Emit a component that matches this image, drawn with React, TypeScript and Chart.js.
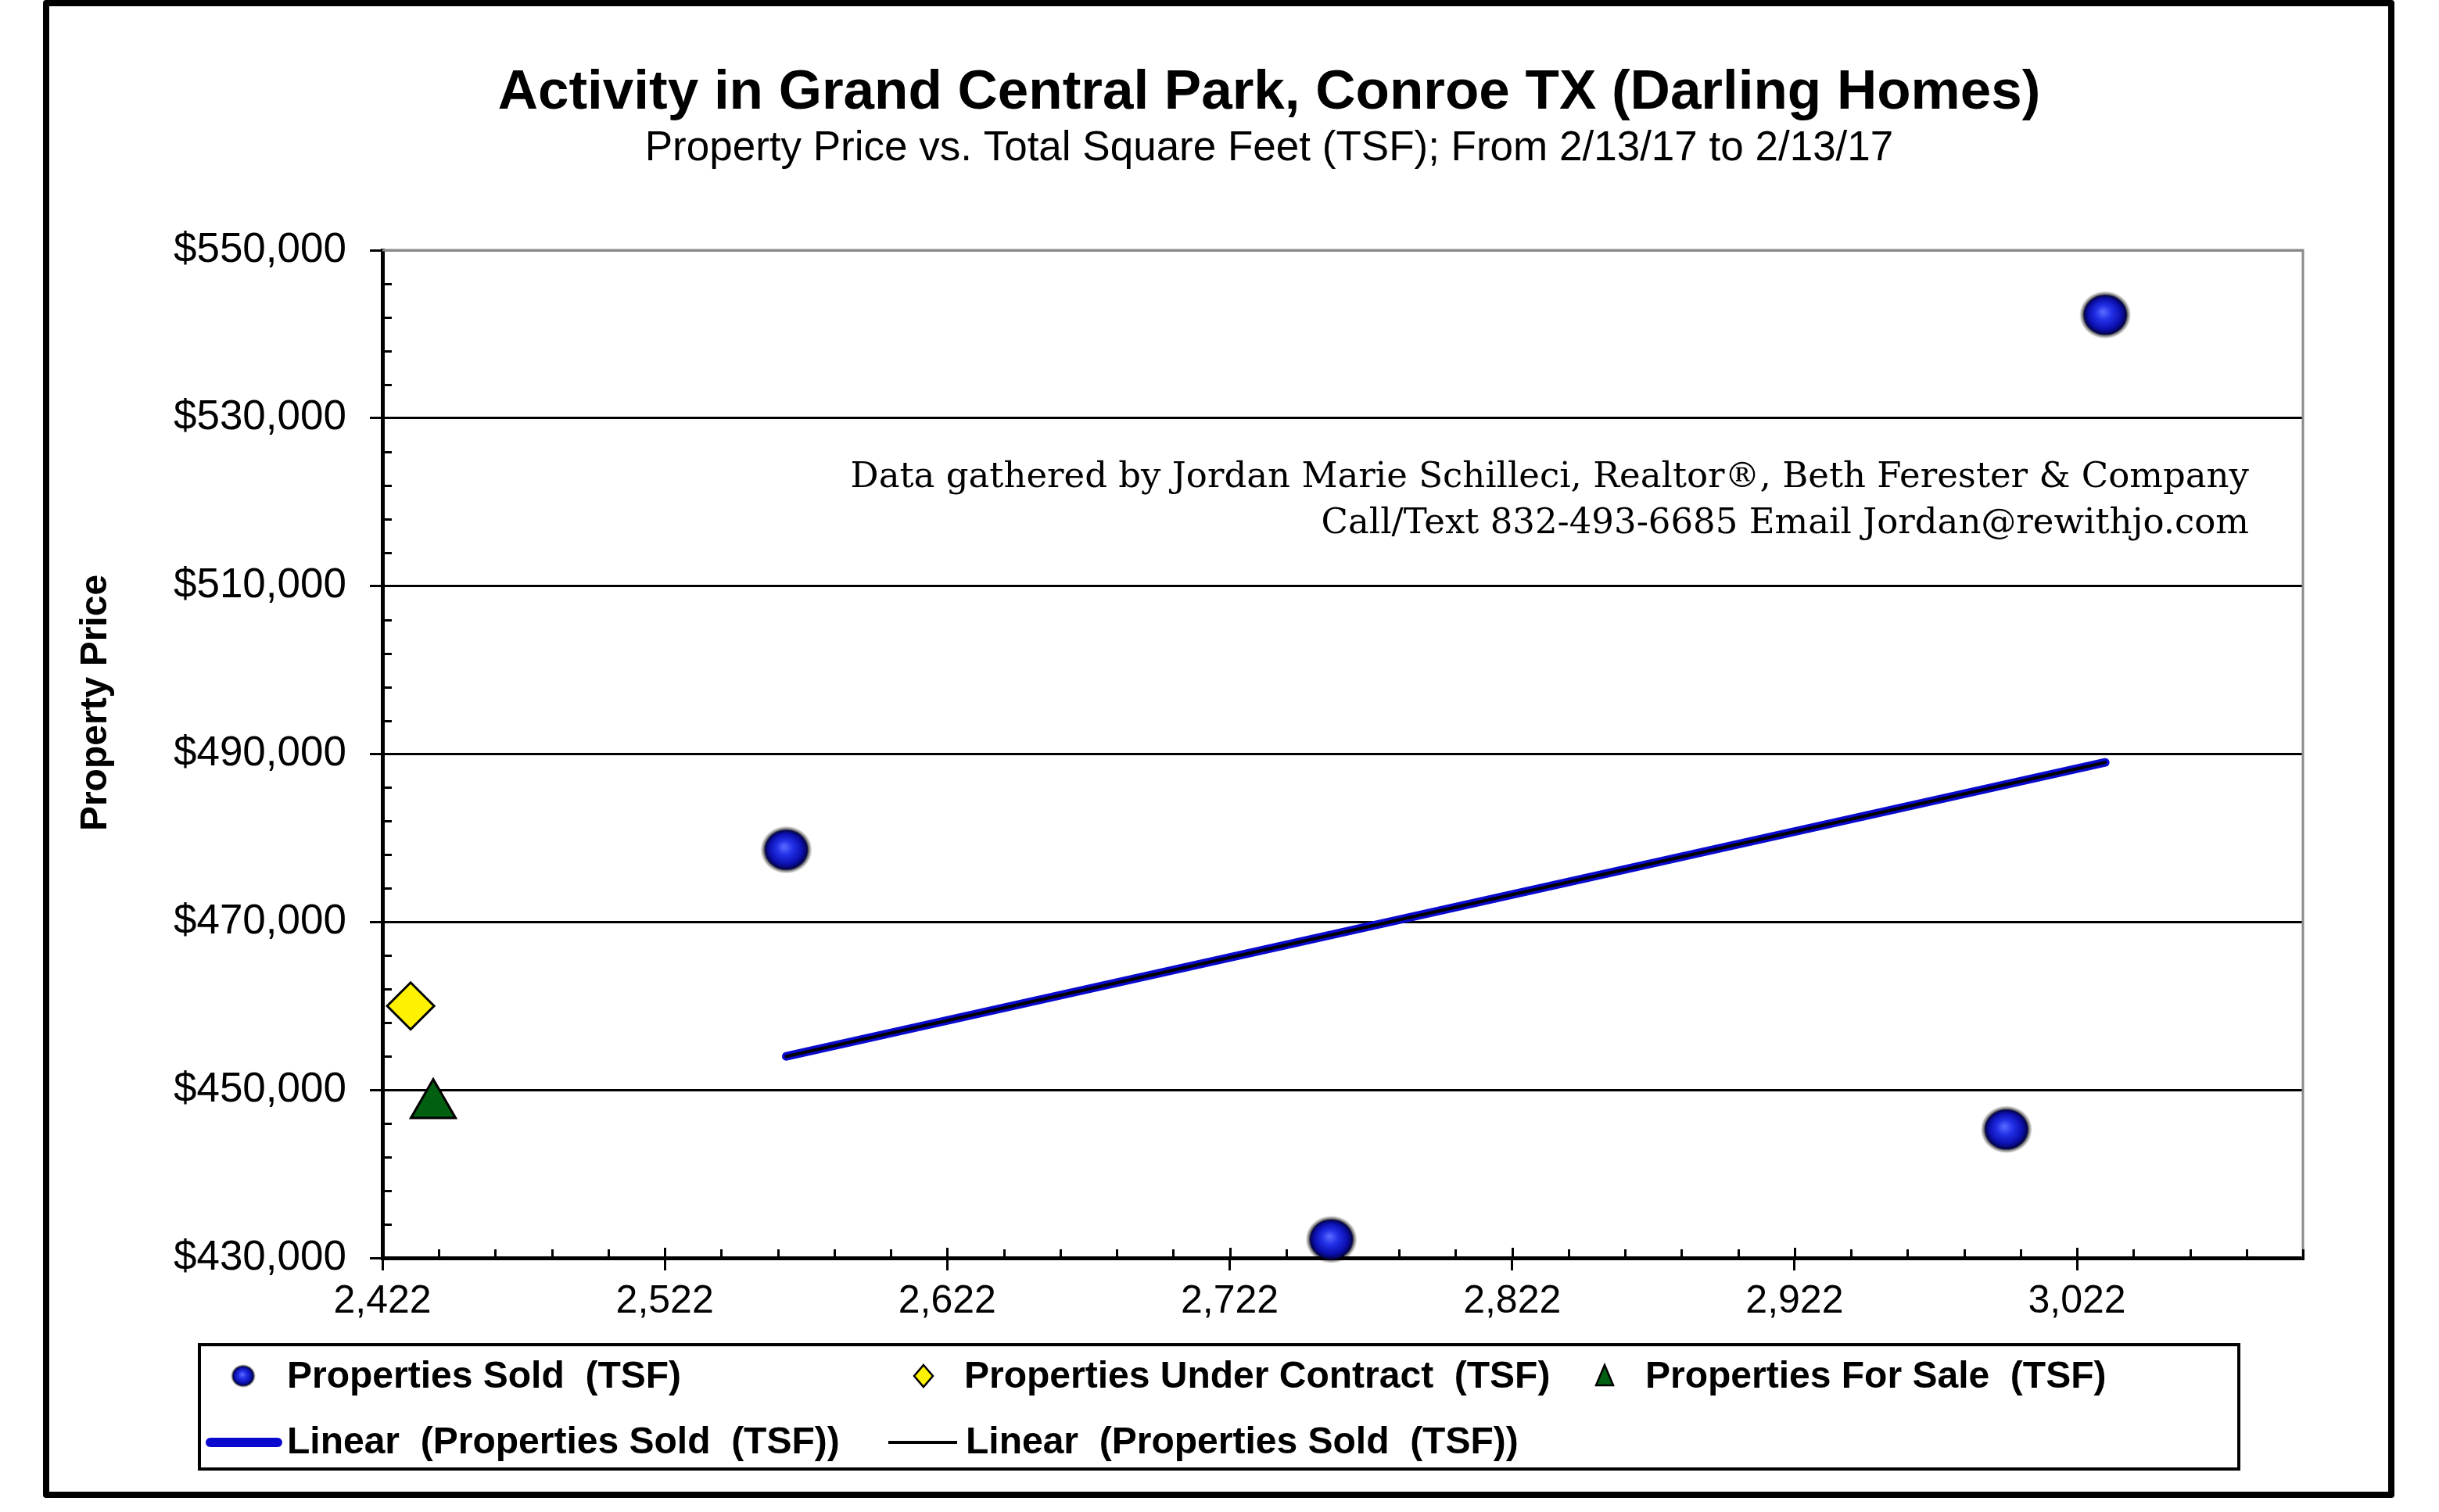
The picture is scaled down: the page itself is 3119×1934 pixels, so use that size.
import React, { useEffect, useRef } from 'react';
import { Chart, registerables } from 'chart.js';

Chart.register(...registerables);

// ---------- data ----------
const titleText = 'Activity in Grand Central Park, Conroe TX (Darling Homes)';
const subtitleText = 'Property Price vs. Total Square Feet (TSF); From 2/13/17 to 2/13/17';
const yAxisTitle = 'Property Price';
const creditLines = [
  'Data gathered by Jordan Marie Schilleci, Realtor®, Beth Ferester & Company',
  'Call/Text 832-493-6685 Email Jordan@rewithjo.com',
];

const seriesLabels = [
  'Properties Sold  (TSF)',
  'Properties Under Contract  (TSF)',
  'Properties For Sale  (TSF)',
  'Linear  (Properties Sold  (TSF))',
  'Linear  (Properties Sold  (TSF))',
];

const soldTSF = [2565, 2758, 2997, 3032];
const soldPrice = [478600, 432200, 445300, 542300];
const contractTSF = [2432];
const contractPrice = [460000];
const forSaleTSF = [2440];
const forSalePrice = [448200];
const trendTSF = [2565, 3032];
const trendPrice = [454000, 489000];

const xTicks = [2422, 2522, 2622, 2722, 2822, 2922, 3022];
const yTicks = [430000, 450000, 470000, 490000, 510000, 530000, 550000];
const xMin = 2422;
const xMax = 3102;
const yMin = 430000;
const yMax = 550000;
const xMinorStep = 20;
const yMinorStep = 4000;

const SANS = '"Liberation Sans", Arial, sans-serif';

function makeSphere(w: number, h: number): HTMLCanvasElement {
  const c = document.createElement('canvas');
  c.width = w;
  c.height = h;
  const g = c.getContext('2d')!;
  const cx = w / 2;
  const cy = h / 2;
  g.save();
  g.translate(cx, cy);
  g.scale(1, h / w);
  const halo = g.createRadialGradient(0, 0, w * 0.38, 0, 0, w / 2);
  halo.addColorStop(0, 'rgba(0,0,0,1)');
  halo.addColorStop(1, 'rgba(0,0,0,0)');
  g.fillStyle = halo;
  g.beginPath();
  g.arc(0, 0, w / 2, 0, Math.PI * 2);
  g.fill();
  const r = w * 0.42;
  const body = g.createRadialGradient(-r * 0.1, -r * 0.15, r * 0.05, 0, 0, r);
  body.addColorStop(0, '#5566ff');
  body.addColorStop(0.35, '#2230e6');
  body.addColorStop(0.75, '#0c10b0');
  body.addColorStop(1, '#020240');
  g.fillStyle = body;
  g.beginPath();
  g.arc(0, 0, r, 0, Math.PI * 2);
  g.fill();
  g.restore();
  return c;
}

const decorPlugin = {
  id: 'decor',
  beforeDatasetsDraw(chart: any) {
    const ctx = chart.ctx as CanvasRenderingContext2D;
    const { left, right, top, bottom } = chart.chartArea;
    const xs = chart.scales.x;
    const ys = chart.scales.y;
    ctx.save();
    // credit text
    ctx.fillStyle = '#000';
    ctx.font = '45px "DejaVu Serif", "Liberation Serif", serif';
    ctx.textAlign = 'right';
    ctx.textBaseline = 'middle';
    ctx.fillText(creditLines[0], right - 69, top + 291);
    ctx.fillText(creditLines[1], right - 69, top + 350);
    // gray top/right frame
    ctx.strokeStyle = '#8a8a8a';
    ctx.lineWidth = 3;
    ctx.beginPath();
    ctx.moveTo(left, top);
    ctx.lineTo(right, top);
    ctx.lineTo(right, bottom);
    ctx.stroke();
    // minor / inner ticks
    ctx.strokeStyle = '#000';
    ctx.lineWidth = 3;
    ctx.beginPath();
    for (let v = xMin; v <= xMax + 1e-6; v += xMinorStep) {
      if (v === xMin) continue;
      const px = Math.round(xs.getPixelForValue(v)) + 0.5;
      const isMajor = xTicks.indexOf(v) >= 0;
      ctx.moveTo(px, bottom);
      ctx.lineTo(px, bottom - (isMajor ? 13 : 11));
    }
    for (let v = yMin; v <= yMax + 1e-6; v += yMinorStep) {
      if (yTicks.indexOf(v) >= 0) continue;
      const py = Math.round(ys.getPixelForValue(v)) + 0.5;
      ctx.moveTo(left, py);
      ctx.lineTo(left + 12, py);
    }
    ctx.stroke();
    ctx.restore();
  },
  afterDraw(chart: any) {
    const ctx = chart.ctx as CanvasRenderingContext2D;
    const ds = chart.data.datasets;
    ctx.save();
    // title & subtitle
    ctx.fillStyle = '#000';
    ctx.textAlign = 'center';
    ctx.textBaseline = 'middle';
    ctx.font = 'bold 71px ' + SANS;
    ctx.fillText(titleText, 1623, 119);
    ctx.font = '53px ' + SANS;
    ctx.fillText(subtitleText, 1623, 190);

    // y axis title
    ctx.font = 'bold 48px ' + SANS;
    ctx.translate(123, 899);
    ctx.rotate(-Math.PI / 2);
    ctx.fillText(yAxisTitle, 0, 0);
    ctx.setTransform(1, 0, 0, 1, 0, 0);

    // legend box
    ctx.strokeStyle = '#000';
    ctx.lineWidth = 4;
    ctx.strokeRect(255, 1720, 2608, 159);
    ctx.font = 'bold 48px ' + SANS;
    ctx.textAlign = 'left';
    ctx.textBaseline = 'middle';
    const row1 = 1762;
    const row2 = 1846;
    const sm = chart._legendSphere as HTMLCanvasElement;
    if (sm) ctx.drawImage(sm, 311 - sm.width / 2, 1760 - sm.height / 2);
    ctx.fillText(ds[0].label, 367, row1);
    // contract diamond
    ctx.beginPath();
    ctx.moveTo(1181, 1760 - 14);
    ctx.lineTo(1181 + 12, 1760);
    ctx.lineTo(1181, 1760 + 14);
    ctx.lineTo(1181 - 12, 1760);
    ctx.closePath();
    ctx.fillStyle = ds[1].backgroundColor;
    ctx.fill();
    ctx.lineWidth = 2.5;
    ctx.strokeStyle = '#000';
    ctx.stroke();
    ctx.fillStyle = '#000';
    ctx.fillText(ds[1].label, 1233, row1);
    // for sale triangle
    ctx.beginPath();
    ctx.moveTo(2052, 1760 - 14);
    ctx.lineTo(2052 + 11, 1760 + 12);
    ctx.lineTo(2052 - 11, 1760 + 12);
    ctx.closePath();
    ctx.fillStyle = ds[2].backgroundColor;
    ctx.fill();
    ctx.stroke();
    ctx.fillStyle = '#000';
    ctx.fillText(ds[2].label, 2104, row1);
    // linear blue
    ctx.lineCap = 'round';
    ctx.strokeStyle = ds[3].borderColor;
    ctx.lineWidth = 12;
    ctx.beginPath();
    ctx.moveTo(269, 1845);
    ctx.lineTo(355, 1845);
    ctx.stroke();
    ctx.fillText(ds[3].label, 367, row2);
    // linear black
    ctx.lineCap = 'butt';
    ctx.strokeStyle = ds[4].borderColor;
    ctx.lineWidth = 4;
    ctx.beginPath();
    ctx.moveTo(1136, 1845);
    ctx.lineTo(1224, 1845);
    ctx.stroke();
    ctx.fillText(ds[4].label, 1235, row2);

    // outer border
    ctx.lineJoin = 'round';
    ctx.strokeStyle = '#000';
    ctx.lineWidth = 8;
    ctx.strokeRect(59, 4, 2999, 1908);
    ctx.restore();
  },
};

export default function App() {
  const ref = useRef<HTMLCanvasElement | null>(null);

  useEffect(() => {
    document.body.style.margin = '0';
    const canvas = ref.current;
    if (!canvas) return;
    const sphere = makeSphere(66, 61);
    const legendSphere = makeSphere(32, 30);

    const chart = new Chart(canvas, {
      type: 'scatter',
      data: {
        datasets: [
          {
            label: seriesLabels[0],
            data: soldTSF.map((x, i) => ({ x, y: soldPrice[i] })),
            pointStyle: sphere as any,
            pointRadius: 30,
            backgroundColor: '#1a22dd',
            borderColor: '#000',
            clip: false as any,
            order: 1,
          },
          {
            label: seriesLabels[1],
            data: contractTSF.map((x, i) => ({ x, y: contractPrice[i] })),
            pointStyle: 'rectRot',
            pointRadius: 30,
            backgroundColor: '#FFF200',
            borderColor: '#000',
            borderWidth: 3,
            clip: false as any,
            order: 1,
          },
          {
            label: seriesLabels[2],
            data: forSaleTSF.map((x, i) => ({ x, y: forSalePrice[i] })),
            pointStyle: 'triangle',
            pointRadius: 33,
            backgroundColor: '#005F10',
            borderColor: '#000',
            borderWidth: 3,
            clip: false as any,
            order: 1,
          },
          {
            label: seriesLabels[3],
            data: trendTSF.map((x, i) => ({ x, y: trendPrice[i] })),
            showLine: true,
            borderColor: '#0A0ACF',
            borderWidth: 11,
            borderCapStyle: 'round',
            pointRadius: 0,
            order: 3,
          },
          {
            label: seriesLabels[4],
            data: trendTSF.map((x, i) => ({ x, y: trendPrice[i] })),
            showLine: true,
            borderColor: '#000000',
            borderWidth: 4,
            borderCapStyle: 'round',
            pointRadius: 0,
            order: 2,
          },
        ] as any,
      },
      options: {
        responsive: false,
        animation: false,
        events: [],
        layout: { padding: { left: 150, right: 174, top: 320, bottom: 205 } },
        plugins: {
          legend: { display: false },
          tooltip: { enabled: false },
          title: { display: false },
          subtitle: { display: false },
        },
        scales: {
          x: {
            type: 'linear',
            min: xMin,
            max: xMax,
            afterBuildTicks: (s: any) => {
              s.ticks = xTicks.map((v) => ({ value: v }));
            },
            afterFit: (s: any) => {
              s.height = 120;
            },
            ticks: {
              autoSkip: false,
              maxRotation: 0,
              padding: 10,
              color: '#000',
              font: { family: SANS, size: 50 },
              callback: (v: any) => Number(v).toLocaleString('en-US'),
            },
            grid: {
              drawOnChartArea: false,
              drawTicks: true,
              tickLength: 16,
              tickWidth: 3,
              tickColor: '#000',
              color: '#000',
              lineWidth: 3,
            },
            border: { display: true, color: '#000', width: 5 },
          },
          y: {
            type: 'linear',
            min: yMin,
            max: yMax,
            afterBuildTicks: (s: any) => {
              s.ticks = yTicks.map((v) => ({ value: v }));
            },
            afterFit: (s: any) => {
              s.width = 339;
            },
            ticks: {
              padding: 30,
              color: '#000',
              font: { family: SANS, size: 53 },
              callback: (v: any) => '$' + Number(v).toLocaleString('en-US'),
            },
            grid: {
              drawTicks: true,
              tickLength: 16,
              tickWidth: 3,
              tickColor: '#000',
              lineWidth: 3,
              color: (c: any) => (c.tick && c.tick.value === yMax ? '#8a8a8a' : '#000'),
            },
            border: { display: true, color: '#000', width: 5 },
          },
        },
      } as any,
      plugins: [
        {
          id: 'sphereHolder',
          beforeInit(ch: any) {
            ch._legendSphere = legendSphere;
          },
        },
        decorPlugin as any,
      ],
    });
    return () => chart.destroy();
  }, []);

  return (
    <canvas
      ref={ref}
      width={3119}
      height={1934}
      style={{ display: 'block', width: '3119px', height: '1934px', background: '#fff' }}
    />
  );
}
